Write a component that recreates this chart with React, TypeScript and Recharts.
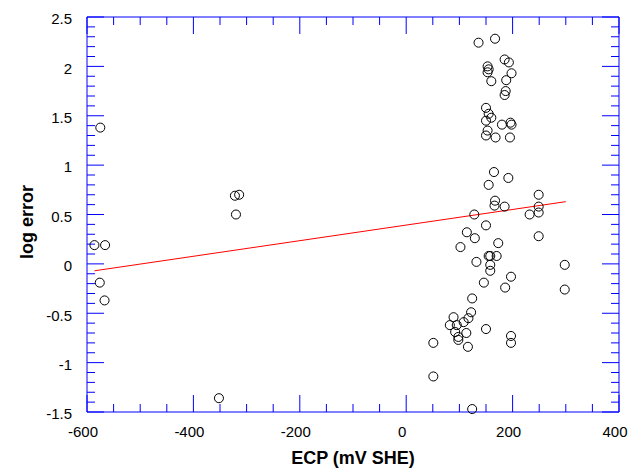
import { ScatterChart, Scatter, XAxis, YAxis, ReferenceLine } from 'recharts';

const ecp = [
  -586, -566, -576, -567, -575, -352, -322, -314, -320,
  136, 167, 185, 193, 153, 155, 153, 198, 160, 188,
  187, 185, 150, 155, 160, 150, 180, 196, 198, 153,
  150, 168, 195, 165, 192, 155, 249, 167, 166, 185,
  249, 249, 128, 232, 150, 114, 129, 249, 173, 102,
  155, 158, 170, 132, 158, 298, 158, 197, 146, 186,
  298, 124, 122, 117, 89, 108, 82, 95, 92, 113,
  150, 98, 98, 116, 197, 197, 51, 51, 124,
];
const logError = [
  0.19, 0.19, -0.19, -0.37, 1.38, -1.36, 0.69, 0.7, 0.5,
  2.24, 2.28, 2.07, 2.04, 2.0, 1.97, 1.94, 1.93, 1.85, 1.86,
  1.75, 1.71, 1.58, 1.52, 1.48, 1.45, 1.41, 1.43, 1.41, 1.35,
  1.3, 1.28, 1.28, 0.93, 0.87, 0.8, 0.7, 0.64, 0.59, 0.58,
  0.58, 0.52, 0.5, 0.5, 0.39, 0.32, 0.26, 0.28, 0.21, 0.17,
  0.08, 0.08, 0.08, 0.02, -0.01, -0.01, -0.07, -0.13, -0.19, -0.24,
  -0.26, -0.35, -0.49, -0.55, -0.54, -0.59, -0.62, -0.62, -0.69, -0.7,
  -0.66, -0.74, -0.77, -0.84, -0.73, -0.8, -0.8, -1.14, -1.47,
];

// regression line end points
const fitEcp = [-586, 300];
const fitLogError = [-0.07, 0.63];

const xTicks = [-600, -400, -200, 0, 200, 400];
const yTicks = [-1.5, -1, -0.5, 0, 0.5, 1, 1.5, 2, 2.5];

const steps = (from: number, to: number, step: number) => {
  const out: number[] = [];
  for (let v = from; v <= to + step / 2; v += step) out.push(Math.round(v * 100) / 100);
  return out;
};
const xMinorTicks = steps(-600, 400, 50);
const yMinorTicks = steps(-1.5, 2.5, 0.1);

const points = ecp.map((x, i) => ({ x, y: logError[i] }));
const fitLine = fitEcp.map((x, i) => ({ x, y: fitLogError[i] }));

const X0 = -600, X1 = 400, Y0 = -1.5, Y1 = 2.5;
const PLOT_W = 532, PLOT_H = 395;
// inward tick lengths (px) converted to data units
const xPx = (px: number) => (px * (X1 - X0)) / PLOT_W;
const yPx = (px: number) => (px * (Y1 - Y0)) / PLOT_H;

const BLUE = '#0000ff';
const tickFont = { fill: '#000', fontSize: 15 };

function tickLines() {
  const out: JSX.Element[] = [];
  const add = (key: string, seg: { x: number; y: number }[]) =>
    out.push(<ReferenceLine key={key} xAxisId="x" yAxisId="y" segment={seg} stroke={BLUE} strokeWidth={1} ifOverflow="visible" />);
  xMinorTicks.forEach(v => {
    const major = xTicks.includes(v);
    const l = yPx(major ? 17 : 8);
    add(`xb${v}`, [{ x: v, y: Y0 }, { x: v, y: Y0 + l }]);
    add(`xt${v}`, [{ x: v, y: Y1 }, { x: v, y: Y1 - l }]);
  });
  yMinorTicks.forEach(v => {
    const major = yTicks.includes(v);
    const l = xPx(major ? 17 : 8);
    add(`yl${v}`, [{ x: X0, y: v }, { x: X0 + l, y: v }]);
    add(`yr${v}`, [{ x: X1, y: v }, { x: X1 - l, y: v }]);
  });
  return out;
}

export default function App() {
  return (
    <div style={{ position: 'absolute', left: 0, top: 0, fontFamily: '"Liberation Sans", Arial, sans-serif' }}>
      <ScatterChart width={631} height={472} margin={{ top: 17, right: 12, left: 0, bottom: 0 }}>
        <XAxis
          xAxisId="x" type="number" dataKey="x" domain={[X0, X1]} ticks={xTicks}
          height={60} stroke={BLUE} tickLine={false} tickMargin={8}
          tick={{ ...tickFont, dx: -4 }}
          label={{ value: 'ECP (mV SHE)', position: 'insideBottom', offset: 8, fill: '#000', fontSize: 18, fontWeight: 'bold' }}
        />
        <YAxis
          yAxisId="y" type="number" dataKey="y" domain={[Y0, Y1]} ticks={yTicks}
          width={87} stroke={BLUE} tickLine={false} tickMargin={9}
          tick={{ ...tickFont, dy: 2 }}
          label={{
            content: () => (
              <text transform="translate(33,222) rotate(-90)" textAnchor="middle" fontSize={18} fontWeight="bold" fill="#000">
                log error
              </text>
            ),
          }}
        />
        <ReferenceLine xAxisId="x" yAxisId="y" y={Y1} stroke={BLUE} ifOverflow="visible" />
        <ReferenceLine xAxisId="x" yAxisId="y" x={X1} stroke={BLUE} ifOverflow="visible" />
        {tickLines()}

        <Scatter xAxisId="x" yAxisId="y" data={fitLine} line={{ stroke: '#ff0000', strokeWidth: 1 }}
          shape={() => <g />} isAnimationActive={false} />
        <Scatter xAxisId="x" yAxisId="y" data={points} shape="circle" fill="none" stroke="#000"
          strokeWidth={1} isAnimationActive={false} />
      </ScatterChart>
    </div>
  );
}
